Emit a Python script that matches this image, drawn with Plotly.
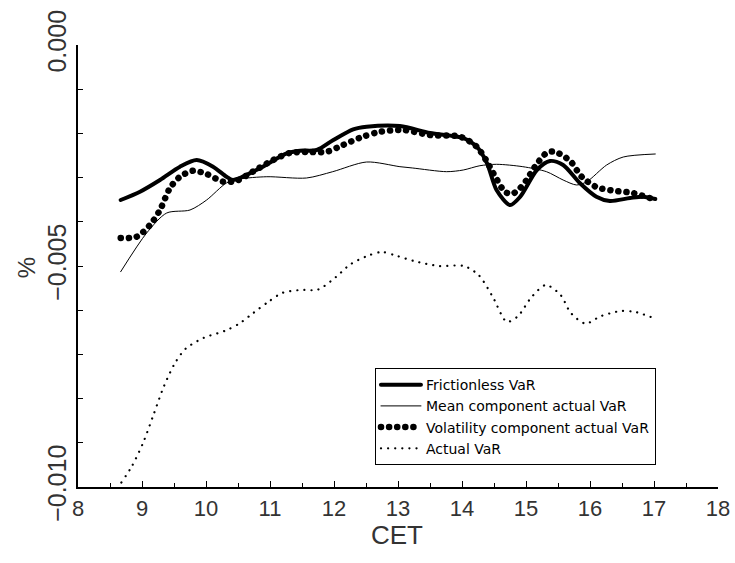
import plotly.graph_objects as go

# ---- data (hours CET, VaR in %) ----
fric_x = [8.667, 8.969, 9.281, 9.594, 9.855, 10.11, 10.32, 10.42, 10.84, 11.26, 11.47, 11.73,
          11.99, 12.30, 12.51, 13.03, 13.5, 14.02, 14.23, 14.39, 14.54, 14.75, 14.91, 15.17,
          15.375, 15.58, 15.84, 16.10, 16.31, 16.625, 16.83, 17.02]
fric_y = [-3.507, -3.319, -3.054, -2.753, -2.602, -2.753, -2.980, -3.054, -2.790, -2.450, -2.391, -2.376,
          -2.149, -1.907, -1.848, -1.833, -1.991, -2.104, -2.301, -2.670, -3.281, -3.620, -3.432, -2.828,
          -2.624, -2.715, -3.122, -3.432, -3.529, -3.462, -3.432, -3.484]

mean_x = [8.667, 9.073, 9.386, 9.75, 10.01, 10.32, 10.53, 10.95, 11.57, 11.98, 12.51, 13.03, 13.23,
          13.76, 14.02, 14.28, 14.54, 14.95, 15.32, 15.58, 15.79, 15.95, 16.26, 16.52, 17.02]
mean_y = [-5.129, -4.253, -3.801, -3.733, -3.507, -3.122, -3.032, -2.980, -3.009, -2.866, -2.647, -2.753, -2.783,
          -2.866, -2.828, -2.731, -2.699, -2.753, -2.866, -3.054, -3.167, -3.093, -2.715, -2.534, -2.466]

vol_x = [8.667, 8.917, 9.125, 9.281, 9.4375, 9.594, 9.797, 10.01, 10.27, 10.48, 10.73, 11.05, 11.31,
         11.57, 11.89, 12.14, 12.45, 12.72, 13.08, 13.5, 13.97, 14.23, 14.39, 14.52, 14.67, 14.78,
         14.91, 15.01, 15.14, 15.32, 15.45, 15.69, 15.87, 16.10, 16.36, 16.67, 16.98]
vol_y = [-4.367, -4.337, -4.072, -3.733, -3.235, -2.980, -2.844, -2.919, -3.093, -3.070, -2.866, -2.602, -2.443,
         -2.421, -2.414, -2.262, -2.075, -1.962, -1.923, -2.036, -2.075, -2.301, -2.640, -2.980, -3.319, -3.371,
         -3.235, -3.054, -2.753, -2.443, -2.414, -2.624, -2.980, -3.213, -3.296, -3.348, -3.484]

act_x = [8.678, 8.844, 9.016, 9.181, 9.344, 9.516, 9.683, 9.963, 10.30, 10.52, 10.74, 10.97, 11.19,
         11.47, 11.75, 12.03, 12.25, 12.53, 12.75, 12.97, 13.25, 13.64, 14.03, 14.26, 14.48, 14.70,
         14.87, 15.09, 15.31, 15.54, 15.70, 15.93, 16.16, 16.48, 16.71, 16.99]
act_y = [-9.898, -9.525, -9.005, -8.362, -7.715, -7.195, -6.869, -6.627, -6.464, -6.303, -6.061, -5.814, -5.611,
         -5.543, -5.534, -5.249, -4.968, -4.767, -4.683, -4.767, -4.887, -5.0, -5.0, -5.204, -5.697, -6.262,
         -6.140, -5.697, -5.430, -5.656, -6.061, -6.303, -6.140, -6.018, -6.041, -6.176]

scale = 0.001  # values read in units of 0.001 %

fig = go.Figure()
fig.add_trace(go.Scatter(x=fric_x, y=[v * scale for v in fric_y], mode="lines",
                         name="Frictionless VaR",
                         line=dict(color="black", width=4, shape="spline", smoothing=0.8)))
fig.add_trace(go.Scatter(x=mean_x, y=[v * scale for v in mean_y], mode="lines",
                         name="Mean component actual VaR",
                         line=dict(color="black", width=1, shape="spline", smoothing=0.8)))
fig.add_trace(go.Scatter(x=vol_x, y=[v * scale for v in vol_y], mode="lines",
                         name="Volatility component actual VaR",
                         line=dict(color="black", width=6.5, dash="0.1px,8px", shape="spline", smoothing=0.8)))
fig.add_trace(go.Scatter(x=act_x, y=[v * scale for v in act_y], mode="lines",
                         name="Actual VaR",
                         line=dict(color="black", width=2.2, dash="0.1px,7px", shape="spline", smoothing=0.8)))

tickfont_x = dict(family="Liberation Sans", size=22, color="#333")
tickfont_y = dict(family="Liberation Sans", size=25, color="#333")

fig.update_layout(
    width=735, height=563,
    margin=dict(l=78, r=17, t=45, b=76, autoexpand=False),
    paper_bgcolor="white", plot_bgcolor="white",
    showlegend=True,
    legend=dict(x=0.464, y=0.269, xanchor="left", yanchor="top",
                bordercolor="black", borderwidth=1, bgcolor="white",
                font=dict(family="DejaVu Sans", size=14, color="black"),
                itemwidth=40, tracegroupgap=0),
    xaxis=dict(range=[8, 18], dtick=1, tick0=8, showline=True, linecolor="black", linewidth=2,
               ticks="inside", ticklen=6, tickwidth=1, tickcolor="black",
               minor=dict(dtick=0.5, ticks="inside", ticklen=4, tickwidth=1, tickcolor="black"),
               showgrid=False, zeroline=False, tickfont=tickfont_x, ticklabelstandoff=1,
               automargin=False),
    yaxis=dict(range=[-0.010, 0.000], dtick=0.005, tick0=0, tickformat=".3f",
               showline=True, linecolor="black", linewidth=2,
               ticks="inside", ticklen=5, tickwidth=1, tickcolor="black",
               minor=dict(dtick=0.001, ticks="inside", ticklen=5, tickwidth=1, tickcolor="black"),
               showgrid=False, zeroline=False, tickangle=-90, tickfont=tickfont_y,
               automargin=False),
    annotations=[
        dict(text="%", xref="paper", yref="paper", x=-0.081, y=0.495, showarrow=False,
             xanchor="center", yanchor="middle",
             textangle=-90, font=dict(family="Liberation Sans", size=24, color="#333")),
        dict(text="CET", xref="paper", yref="paper", x=0.498, y=-0.109, showarrow=False,
             xanchor="center", yanchor="middle",
             font=dict(family="Liberation Sans", size=26, color="#333")),
    ],
)

post = """
document.documentElement.style.margin = '0';
document.documentElement.style.padding = '0';
document.body.style.margin = '0';
document.body.style.padding = '0';
document.body.style.overflow = 'hidden';
var gd = document.getElementById('{plot_id}');
function roundCaps(){
  document.querySelectorAll('path.js-line').forEach(function(p){ p.style.strokeLinecap='round'; });
}
roundCaps();
setTimeout(roundCaps, 0);
setTimeout(roundCaps, 200);
if (gd && gd.on) { gd.on('plotly_afterplot', roundCaps); }
"""

fig.write_html("out.html", post_script=post, config={"displayModeBar": False})
